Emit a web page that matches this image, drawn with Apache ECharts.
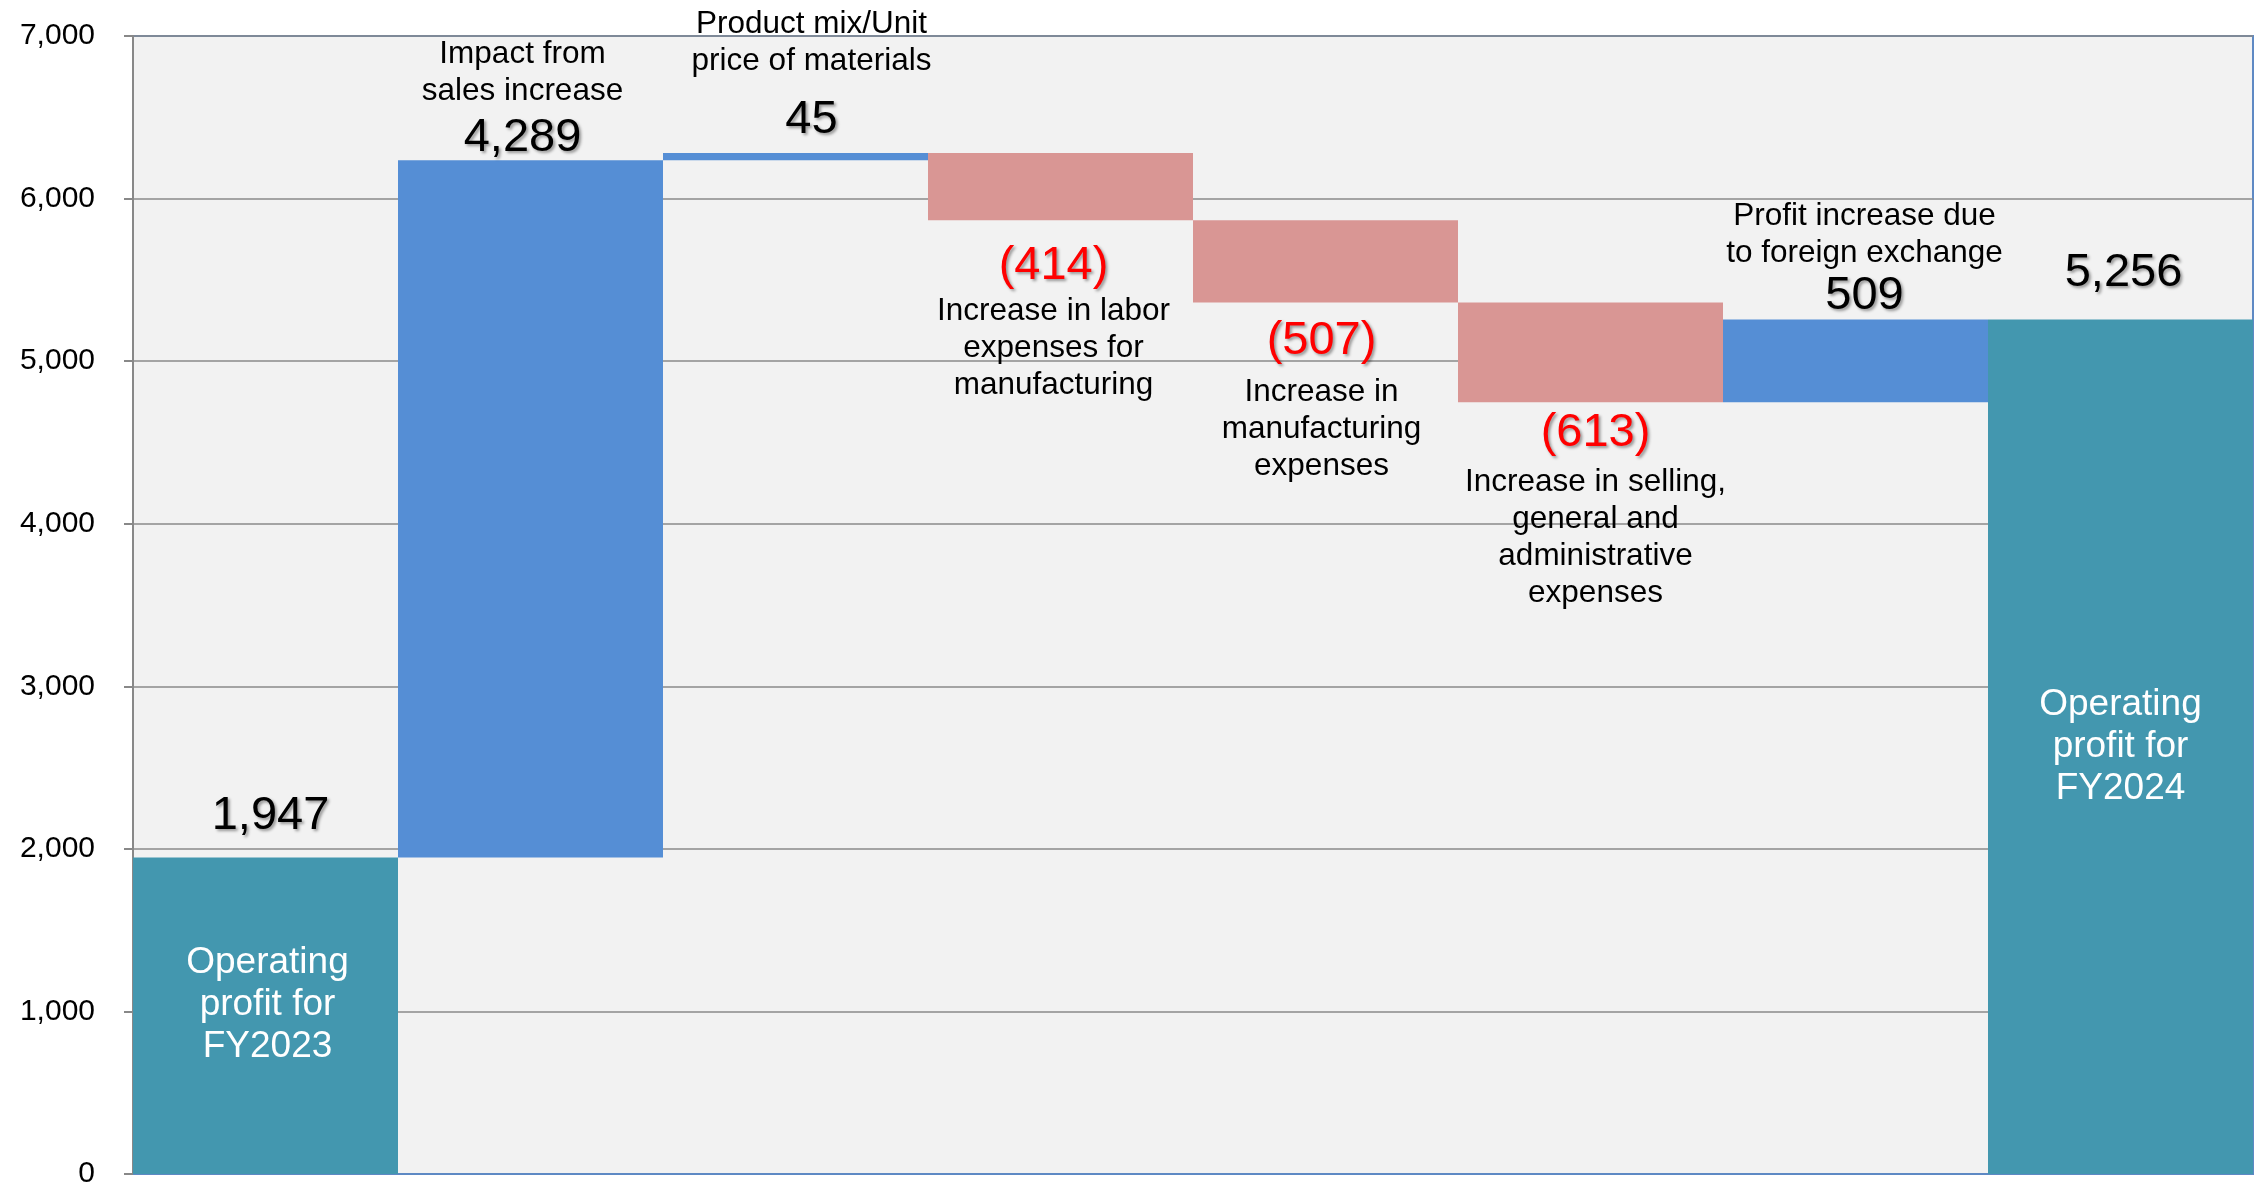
<!DOCTYPE html>
<html>
<head>
<meta charset="utf-8">
<script src="https://cdn.jsdelivr.net/npm/echarts@6/dist/echarts.min.js"></script>
<style>
  html, body { margin: 0; padding: 0; background: #ffffff; }
  #chart { width: 2267px; height: 1184px; }
</style>
</head>
<body>
<div id="chart"></div>
<script>
// Operating profit bridge FY2023 -> FY2024 (millions of yen)
const steps = [
  'Operating profit for FY2023',
  'Impact from sales increase',
  'Product mix/Unit price of materials',
  'Increase in labor expenses for manufacturing',
  'Increase in manufacturing expenses',
  'Increase in selling, general and administrative expenses',
  'Profit increase due to foreign exchange',
  'Operating profit for FY2024'
];
const captionLines = [
  ['Operating', 'profit for', 'FY2023'],
  ['Impact from', 'sales increase'],
  ['Product mix/Unit', 'price of materials'],
  ['Increase in labor', 'expenses for', 'manufacturing'],
  ['Increase in', 'manufacturing', 'expenses'],
  ['Increase in selling,', 'general and', 'administrative', 'expenses'],
  ['Profit increase due', 'to foreign exchange'],
  ['Operating', 'profit for', 'FY2024']
];
const stepValues = [1947, 4289, 45, -414, -507, -613, 509, 5256];
const totalFlags = [true, false, false, false, false, false, false, true];
const yMin = 0, yMax = 7000, yStep = 1000;

// label placement per step: distance from bar edge, height of the number line, x nudge
const labelLayout = [
  { dist: 16,   numLH: 50, dx: 5 },
  { dist: -5,   numLH: 55, dx: -8 },
  { dist: -8,   numLH: 81, dx: 16 },
  { dist: 19,   numLH: 54, dx: -7 },
  { dist: 5,    numLH: 66, dx: -4 },
  { dist: 0.5,  numLH: 61, dx: 5 },
  { dist: -2,   numLH: 50, dx: 9 },
  { dist: 21,   numLH: 50, dx: 3 }
];
const insideShift = { 0: [2, -11], 7: [0, 0] };

const FONT = "'Liberation Sans', Arial, sans-serif";
const COLORS = { total: '#4397AF', up: '#558ED5', down: '#D99694' };
const fmt = v => v.toLocaleString('en-US');

const shadow = {
  textShadowColor: 'rgba(0,0,0,0.38)',
  textShadowBlur: 3,
  textShadowOffsetX: 2,
  textShadowOffsetY: 2
};

const baseData = [];
const barData = [];
const insideData = [];
let running = 0;

stepValues.forEach((v, i) => {
  let base, h;
  if (totalFlags[i]) { base = 0; h = v; running = v; }
  else if (v >= 0) { base = running; h = v; running += v; }
  else { running += v; base = running; h = -v; }
  baseData.push(base);

  const lay = labelLayout[i];
  const isDown = !totalFlags[i] && v < 0;
  const color = totalFlags[i] ? COLORS.total : (isDown ? COLORS.down : COLORS.up);
  const numTag = isDown ? 'neg' : 'num';
  const numText = isDown ? '(' + fmt(-v) + ')' : fmt(v);
  let lines;
  if (totalFlags[i]) {
    lines = ['{' + numTag + '|' + numText + '}'];
  } else if (isDown) {
    lines = ['{neg|' + numText + '}'].concat(captionLines[i].map(c => '{cap|' + c + '}'));
  } else {
    lines = captionLines[i].map(c => '{cap|' + c + '}').concat(['{num|' + numText + '}']);
  }
  barData.push({
    value: h,
    itemStyle: { color: color },
    label: {
      show: true,
      position: isDown ? 'bottom' : 'top',
      distance: lay.dist,
      offset: [lay.dx, 0],
      align: 'center',
      formatter: lines.join('\n'),
      rich: {
        cap: { fontFamily: FONT, fontSize: 31.5, lineHeight: 37, color: '#000000', align: 'center' },
        num: Object.assign({ fontFamily: FONT, fontSize: 47, lineHeight: lay.numLH, color: '#000000', align: 'center' }, shadow),
        neg: Object.assign({ fontFamily: FONT, fontSize: 47, lineHeight: lay.numLH, color: '#FF0000', align: 'center' }, shadow)
      }
    }
  });

  if (totalFlags[i]) {
    insideData.push({
      value: v,
      label: {
        show: true,
        position: 'inside',
        offset: insideShift[i] || [0, 0],
        formatter: captionLines[i].join('\n'),
        fontFamily: FONT,
        fontSize: 37,
        lineHeight: 42,
        color: '#ffffff',
        align: 'center'
      }
    });
  } else {
    insideData.push('-');
  }
});

const chart = echarts.init(document.getElementById('chart'), null, { renderer: 'canvas' });
chart.setOption({
  animation: false,
  backgroundColor: '#ffffff',
  grid: {
    left: 133, right: 14, top: 36, bottom: 10,
    containLabel: false,
    outerBoundsMode: 'none',
    show: true,
    backgroundColor: '#F2F2F2',
    borderColor: '#5E89C4',
    borderWidth: 2
  },
  xAxis: {
    type: 'category',
    data: steps,
    axisLine: { show: true, lineStyle: { color: '#5E89C4', width: 2 } },
    axisTick: { show: false },
    axisLabel: { show: false },
    splitLine: { show: false }
  },
  yAxis: {
    type: 'value',
    min: yMin,
    max: yMax,
    interval: yStep,
    axisLine: { show: true, lineStyle: { color: '#888888', width: 2 } },
    axisTick: { show: true, inside: false, length: 9, lineStyle: { color: '#888888', width: 2 } },
    axisLabel: {
      margin: 38,
      fontFamily: FONT,
      fontSize: 30,
      color: '#000000',
      formatter: v => fmt(v)
    },
    splitLine: { show: true, lineStyle: { color: '#8A8A8A', width: 1.5 } }
  },
  series: [
    {
      name: 'base',
      type: 'bar',
      stack: 'bridge',
      silent: true,
      barCategoryGap: '0%',
      barGap: '-100%',
      itemStyle: { color: 'transparent' },
      emphasis: { disabled: true },
      data: baseData
    },
    {
      name: 'change',
      type: 'bar',
      stack: 'bridge',
      silent: true,
      barCategoryGap: '0%',
      barGap: '-100%',
      emphasis: { disabled: true },
      data: barData
    },
    {
      name: 'totals',
      type: 'bar',
      silent: true,
      barCategoryGap: '0%',
      barGap: '-100%',
      itemStyle: { color: 'transparent' },
      emphasis: { disabled: true },
      z: 3,
      data: insideData
    }
  ]
});
</script>
</body>
</html>
